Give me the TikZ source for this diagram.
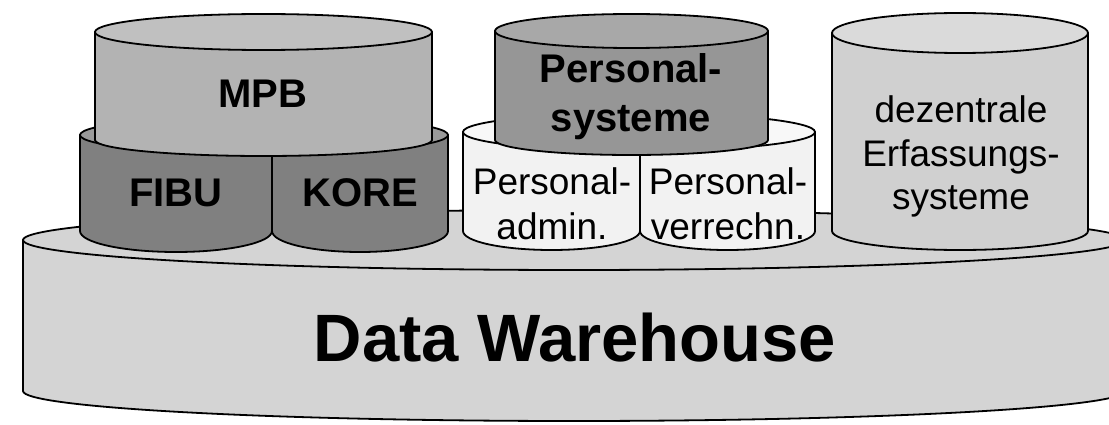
\documentclass[tikz,border=0pt]{standalone}
\usepackage{fontspec}
\setmainfont{Liberation Sans}
\definecolor{dwgray}{RGB}{212,212,212}
\definecolor{mpbbody}{RGB}{179,179,179}
\definecolor{mpbtop}{RGB}{192,192,192}
\definecolor{fibubody}{RGB}{128,128,128}
\definecolor{fibutop}{RGB}{154,154,154}
\definecolor{psysbody}{RGB}{150,150,150}
\definecolor{psystop}{RGB}{168,168,168}
\definecolor{padmbody}{RGB}{242,242,242}
\definecolor{padmtop}{RGB}{248,248,248}
\definecolor{dezbody}{RGB}{208,208,208}
\definecolor{deztop}{RGB}{218,218,218}
\tikzset{
  cylline/.style={draw=black, line width=1.8pt, line join=round},
  boldlabel/.style={font=\bfseries\fontsize{40}{48}\selectfont, anchor=base, inner sep=0pt},
  reglabel/.style={font=\fontsize{37}{44}\selectfont, anchor=base, inner sep=0pt},
  biglabel/.style={font=\bfseries\fontsize{67}{80}\selectfont, anchor=base, inner sep=0pt}
}
% body of a cylinder: cx, rx, ytop, ybottom, ry bottom, colour
\newcommand{\cylbody}[6]{%
  \filldraw[cylline, fill=#6] (#1-#2,#3) -- (#1-#2,#4)
    arc[start angle=180, end angle=360, x radius=#2pt, y radius=#5pt]
    -- (#1+#2,#3) -- cycle;}
% top ellipse: cx, rx, ytop, ry, colour
\newcommand{\cyltop}[5]{%
  \filldraw[cylline, fill=#5] (#1,#3) ellipse[x radius=#2pt, y radius=#4pt];}
\begin{document}
\begin{tikzpicture}[x=1pt,y=-1pt]
\useasboundingbox (0,0) rectangle (1109,425);
% Data Warehouse
\cylbody{574}{551}{240}{391}{30}{dwgray}
\cyltop{574}{551}{240}{30}{dwgray}
% FIBU / KORE
\cylbody{176}{96}{135}{231}{21}{fibubody}
\cylbody{360}{88}{135}{231}{21}{fibubody}
\cyltop{264}{184}{135}{19}{fibutop}
% MPB
\cylbody{263.5}{168.5}{32}{140}{16}{mpbbody}
\cyltop{263.5}{168.5}{32}{18}{mpbtop}
% Personal admin / verrechn
\cylbody{551.5}{88.5}{132}{231}{19}{padmbody}
\cylbody{727.5}{87.5}{132}{231}{19}{padmbody}
\cyltop{639}{176}{132}{19}{padmtop}
% Personalsysteme
\cylbody{631.5}{136.5}{31}{140}{15}{psysbody}
\cyltop{631.5}{136.5}{31}{17}{psystop}
% dezentrale Erfassungssysteme
\cylbody{960}{128}{33}{231}{19}{dezbody}
\cyltop{960}{128}{33}{20}{deztop}
% labels
\node[boldlabel] (mpb) at (263,108) {MPB};
\node[boldlabel] (fibu) at (176,207) {FIBU};
\node[boldlabel] (kore) at (360,207) {KORE};
\node[boldlabel] (psys1) at (631,83) {Personal-};
\node[boldlabel] (psys2) at (631,132) {systeme};
\node[reglabel] (padm1) at (552,195) {Personal-};
\node[reglabel] (padm2) at (552,240) {admin.};
\node[reglabel] (pver1) at (728,195) {Personal-};
\node[reglabel] (pver2) at (728,240) {verrechn.};
\node[reglabel] (dez1) at (961,123) {dezentrale};
\node[reglabel] (dez2) at (961,167) {Erfassungs-};
\node[reglabel] (dez3) at (961,210) {systeme};
\node[biglabel] (dw) at (575,361) {Data Warehouse};
\end{tikzpicture}
\end{document}
